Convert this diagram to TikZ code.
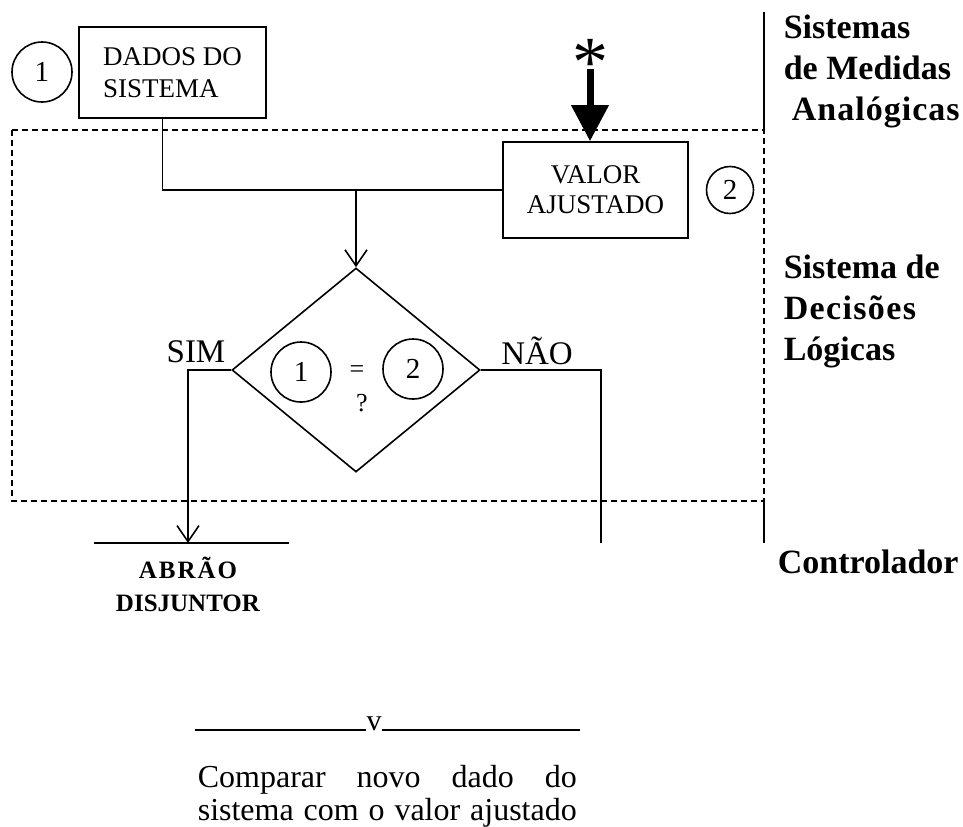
\documentclass[tikz,border=0pt]{standalone}
\usepackage{fontspec}
\setmainfont{Liberation Serif}
\usetikzlibrary{shapes.geometric,arrows.meta,positioning}

\begin{document}
\begin{tikzpicture}[x=0.5pt, y=-0.5pt, line width=0.8pt, >={Straight Barb[length=8pt,width=11pt]},
  blk/.style={draw, rectangle, inner sep=0pt, font=\fontsize{13.5}{16}\selectfont},
  num/.style={draw, circle, inner sep=0pt, font=\fontsize{14.5}{16}\selectfont},
  dec/.style={draw, diamond, inner sep=0pt, minimum width=124pt, minimum height=102pt},
  side/.style={anchor=north west, inner sep=0pt, align=left, font=\fontsize{17}{20.5}\selectfont\bfseries},
  yesno/.style={anchor=base, font=\fontsize{16.5}{18}\selectfont}]
\useasboundingbox (0,0) rectangle (963,826);

\node[blk, minimum width=93.5pt, minimum height=45.5pt, align=left] (dados) at (172.5,72.5) {DADOS DO\\SISTEMA};
\node[num, minimum size=30pt] (n1) at (42,72) {1};
\node[blk, minimum width=92.5pt, minimum height=48pt, align=center, font=\fontsize{13.5}{15}\selectfont] (valor) at (595.5,190) {VALOR\\AJUSTADO};
\node[num, minimum size=23.5pt] (n2) at (730,190) {2};
\node[anchor=base, inner sep=0pt, font=\fontsize{36}{36}\selectfont] (ast) at (590,86) {*};
\coordinate (astfoot) at (590,69);

\node[dec] (cmp) at (356,370) {};
\node[num, minimum size=30pt] (c1) at (301,372) {1};
\node[num, minimum size=30pt] (c2) at (413,369) {2};
\node[font=\fontsize{13}{14}\selectfont] (eq) at (357,372) {=};
\node[font=\fontsize{13}{14}\selectfont] (qm) at (362,403) {?};
\node[yesno] (sim) at (196,362) {SIM};
\node[yesno] (nao) at (537,364) {NÃO};

\coordinate (jn) at (cmp.north |- valor.west);
\coordinate (simend) at (188,543);
\coordinate (naoend) at (601,543);
\coordinate (dj1) at (94,543);
\coordinate (dj2) at (289,543);

\draw ([xshift=-5pt]dados.south) |- (valor.west);
\draw[->] (jn) -- (cmp.north);
\draw[line width=3.5pt, -{Triangle[length=18pt,width=18pt]}] (astfoot) -- (astfoot |- valor.north);
\draw[->] (cmp.west) -| (simend);
\draw (cmp.east) -| (naoend);
\draw (dj1) -- (dj2);

\draw[dash pattern=on 3pt off 2pt] (12,130) rectangle (764,501);
\draw (764,12) -- (764,130);
\draw (764,501) -- (764,543);

\node[anchor=north, inner sep=0pt, align=center, font=\fontsize{12.5}{16.5}\selectfont\bfseries] (abrao) at (188,556) {{\addfontfeature{LetterSpace=8}ABRÃO}\\DISJUNTOR};

\node[side] (med) at (783,14) {Sistemas\\de Medidas\\\hspace*{4pt}{\addfontfeature{LetterSpace=3}Analógicas}};
\node[side] (logic) at (783,254) {Sistema de\\{\addfontfeature{LetterSpace=4}Decisões}\\Lógicas};
\node[anchor=base west, inner sep=0pt, font=\fontsize{17}{20}\selectfont\bfseries] (ctl) at (777,573) {Controlador};

\node[anchor=base, inner sep=0pt, font=\fontsize{15}{16}\selectfont] (vmk) at (374,730) {v};
\coordinate (bl) at (195,730);
\coordinate (br) at (580,730);
\draw (bl) -- (vmk.base west);
\draw (vmk.base east) -- (br);
\node[anchor=north west, inner sep=0pt, align=left, font=\fontsize{16}{16.5}\selectfont] (cap) at (197,764) {\makebox[189.5pt][s]{Comparar novo dado do}\\\makebox[189.5pt][s]{sistema com o valor ajustado}};
\end{tikzpicture}
\end{document}
